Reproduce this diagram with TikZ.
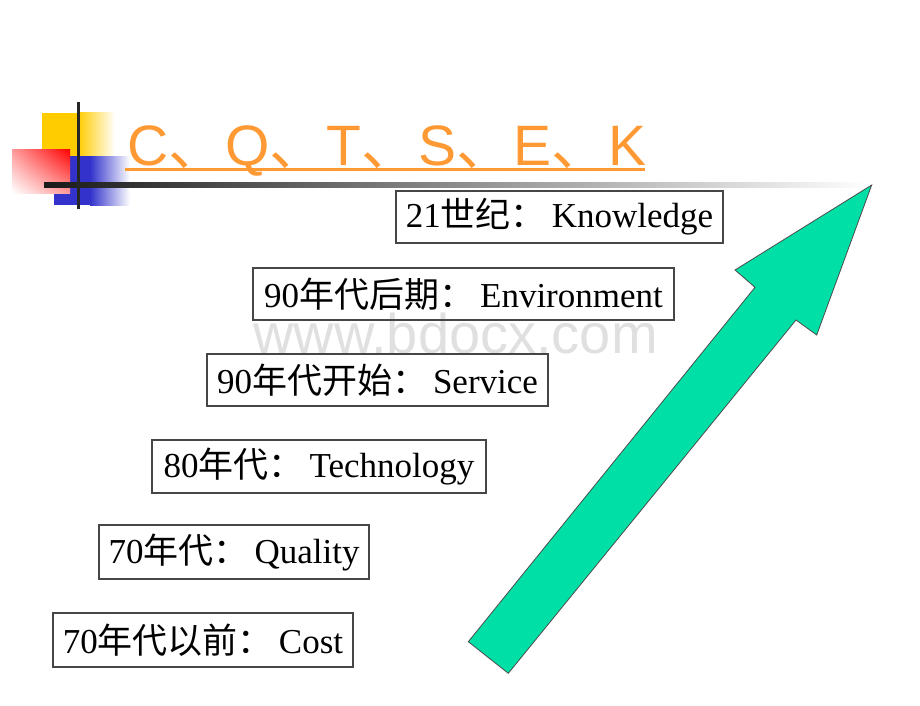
\documentclass[tikz,border=0pt]{standalone}
\usepackage{fontspec}
\usetikzlibrary{shadings}
\setmainfont{Liberation Serif}
\setsansfont{Liberation Sans}
\newfontfamily\cjk{Noto Sans CJK SC}
\newcommand{\cc}{{\cjk ：}\hspace{6pt}}
\definecolor{titleorange}{RGB}{255,153,51}
\definecolor{arrowgreen}{RGB}{0,224,166}
\definecolor{boxgray}{RGB}{70,70,70}
\definecolor{sqyellow}{RGB}{255,204,0}
\definecolor{sqblue}{RGB}{51,51,204}
\definecolor{wmgray}{RGB}{224,224,224}
\begin{document}
\begin{tikzpicture}[x=1pt,y=-1pt,
  era/.style={draw=boxgray, line width=1.1pt, inner sep=0pt, text=black,
              font=\fontsize{35}{42}\selectfont},
  ttl/.style={text=titleorange, inner sep=0pt, font=\sffamily\fontsize{57}{64}\selectfont},
  wm/.style={text=wmgray, inner sep=0pt, font=\sffamily\fontsize{56}{60}\selectfont}]
\useasboundingbox (0,0) rectangle (920,706);
% corner decoration
\fill[sqyellow] (42,113) rectangle (78,157);
\shade[left color=sqyellow, right color=white] (78,113) rectangle (115,157);
\fill[sqblue] (54,156) rectangle (90,205);
\shade[left color=sqblue, right color=white] (90,156) rectangle (130,205);
\shade[upper right=red, lower left=white, upper left=red!40!white, lower right=red!40!white]
  (12,149) rectangle (70,193);
\shade[left color=black!90, right color=white] (44,182) rectangle (870,187);
\draw[black!85, line width=3pt] (78,102) -- (78,209);
% watermark
\node[wm, anchor=base west] (wmark) at (253,353) {www.bdocx.com};
% title
\node[ttl, anchor=base west] (title) at (127,165) {C{\cjk 、}Q{\cjk 、}T{\cjk 、}S{\cjk 、}E{\cjk 、}K};
\draw[titleorange, line width=3pt] (125,169) -- (645,169);
% era boxes
\node[era, minimum width=327pt, minimum height=52pt] (k) at (559.5,217) {21{\cjk 世纪}\cc Knowledge};
\node[era, minimum width=421pt, minimum height=52pt] (e) at (463.5,294) {90{\cjk 年代后期}\cc Environment};
\node[era, minimum width=341pt, minimum height=52pt] (s) at (377.5,380) {90{\cjk 年代开始}\cc Service};
\node[era, minimum width=334pt, minimum height=53pt] (t) at (319,466.5) {80{\cjk 年代}\cc Technology};
\node[era, minimum width=270pt, minimum height=54pt] (q) at (234,552) {70{\cjk 年代}\cc Quality};
\node[era, minimum width=300pt, minimum height=54pt] (c) at (203,640) {70{\cjk 年代以前}\cc Cost};
% big arrow
\filldraw[fill=arrowgreen, draw=black!70, line width=0.8pt]
  (871.7,185) -- (816.7,335) -- (796,320) -- (508.3,673.3) -- (468.3,641.7)
  -- (755,287.3) -- (735,270) -- cycle;
\end{tikzpicture}
\end{document}
